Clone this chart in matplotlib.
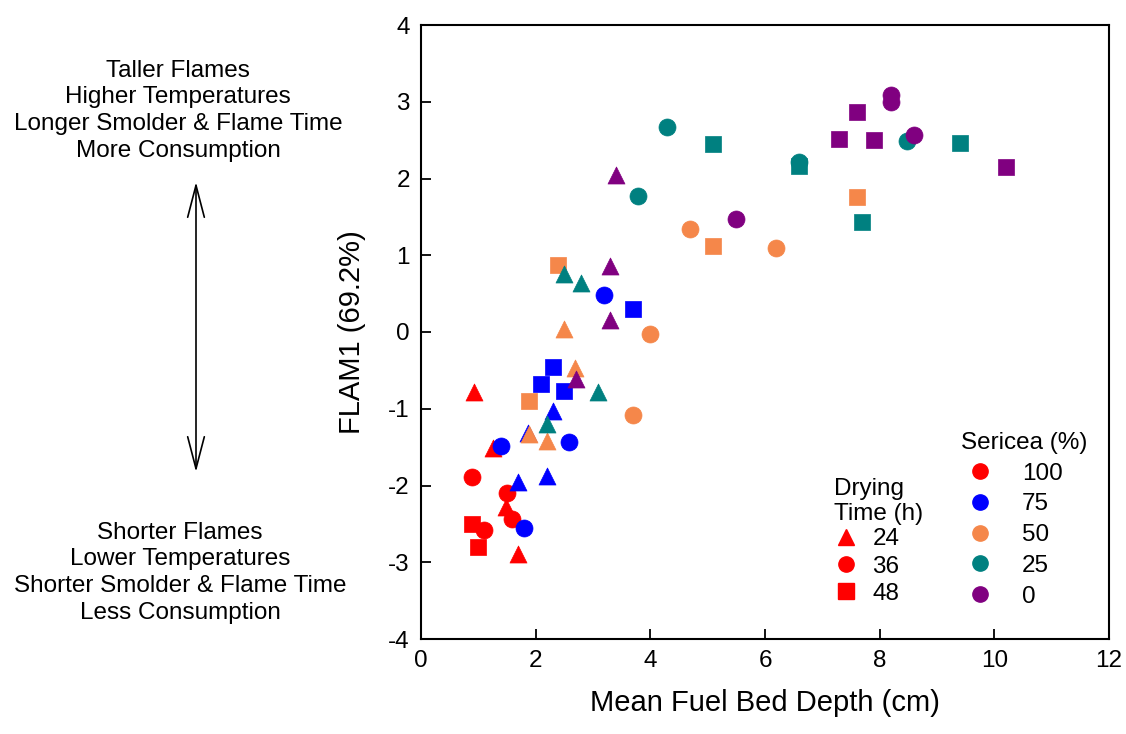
import matplotlib
matplotlib.use('Agg')
from matplotlib import pyplot as plt
from matplotlib.lines import Line2D
import numpy as np

plt.rcParams['font.family'] = ['Liberation Sans', 'DejaVu Sans']
plt.rcParams['axes.unicode_minus'] = False

# depth (cm), FLAM1 score, sericea %, drying time (h)
depth = [0.92, 1.26, 1.48, 1.69, 0.89, 1.50, 1.59, 1.10, 0.89, 0.99,
         1.69, 2.20, 2.30, 1.87, 1.40, 2.58, 1.80, 3.19, 3.70, 2.30, 2.09, 2.49,
         2.49, 2.69, 1.89, 2.20, 4.00, 3.69, 4.69, 6.19, 2.39, 1.89, 5.10, 7.60,
         2.49, 2.79, 3.09, 2.20, 4.29, 3.79, 6.59, 8.48, 5.09, 6.59, 7.70, 9.40,
         3.40, 3.30, 3.30, 2.70, 5.49, 8.20, 8.20, 8.60, 7.60, 7.29, 7.90, 10.20]
flam1 = [-0.78, -1.51, -2.28, -2.89, -1.89, -2.10, -2.44, -2.58, -2.50, -2.80,
         -1.96, -1.88, -1.03, -1.32, -1.49, -1.43, -2.55, 0.48, 0.30, -0.46, -0.68, -0.77,
         0.04, -0.47, -1.33, -1.42, -0.03, -1.08, 1.34, 1.09, 0.87, -0.90, 1.12, 1.76,
         0.76, 0.64, -0.78, -1.20, 2.67, 1.77, 2.21, 2.49, 2.45, 2.16, 1.43, 2.46,
         2.05, 0.86, 0.16, -0.61, 1.47, 3.09, 3.00, 2.57, 2.87, 2.51, 2.50, 2.15]
sericea = [100]*10 + [75]*12 + [50]*12 + [25]*12 + [0]*12
drying = ([24]*4 + [36]*4 + [48]*2 +
          ([24]*4 + [36]*4 + [48]*4) * 4)

sericea_levels = [100, 75, 50, 25, 0]
sericea_colors = ['#FF0000', '#0000FF', '#F5874A', '#008080', '#800080']
drying_levels = [24, 36, 48]
drying_markers = ['^', 'o', 's']
marker_sizes = {'^': 150, 'o': 150, 's': 120}

fig = plt.figure(figsize=(11.26, 7.34), dpi=100)
ax = fig.add_axes([421/1126, 1 - 639/734, 688/1126, 614/734])

depth = np.array(depth); flam1 = np.array(flam1)
sericea = np.array(sericea); drying = np.array(drying)

for s, c in zip(sericea_levels, sericea_colors):
    for d, m in zip(drying_levels, drying_markers):
        sel = (sericea == s) & (drying == d)
        if sel.any():
            ax.scatter(depth[sel], flam1[sel], marker=m, s=marker_sizes[m],
                       color=c, edgecolors=c, linewidths=0.5, zorder=3)

ax.set_xlim(0, 12)
ax.set_ylim(-4, 4)
ax.set_xticks(range(0, 13, 2))
ax.set_yticks(range(-4, 5))
ax.tick_params(direction='in', length=7, width=1.3, labelsize=17.5, pad=8,
               top=False, right=False)
for sp in ax.spines.values():
    sp.set_linewidth(1.5)
ax.set_xlabel('Mean Fuel Bed Depth (cm)', fontsize=21, labelpad=12)
ax.set_ylabel('FLAM1 (69.2%)', fontsize=21, labelpad=16)

# legends
h_dry = [Line2D([], [], marker=m, color='#FF0000', ls='none', markersize=11)
         for m in drying_markers]
leg1 = ax.legend(h_dry, [str(d) for d in drying_levels], title='Drying\nTime (h)',
                 loc='upper left', bbox_to_anchor=(0.575, 0.29), frameon=False,
                 fontsize=17.5, title_fontsize=17.5, alignment='left',
                 handletextpad=0.6, labelspacing=0.22, handlelength=1.0,
                 borderpad=0.2)
leg1._legend_box.sep = 2
ax.add_artist(leg1)
h_ser = [Line2D([], [], marker='o', color=c, ls='none', markersize=11)
         for c in sericea_colors]
ax.legend(h_ser, [str(s) for s in sericea_levels], title='Sericea (%)',
          loc='upper left', bbox_to_anchor=(0.76, 0.365), frameon=False,
          fontsize=17.5, title_fontsize=17.5, alignment='left',
          handletextpad=0.9, labelspacing=0.36, handlelength=1.6,
          borderpad=0.2)

# side annotation
top_lines = ['Taller Flames', 'Higher Temperatures',
             'Longer Smolder & Flame Time', 'More Consumption']
bot_lines = ['Shorter Flames', 'Lower Temperatures',
             'Shorter Smolder & Flame Time', 'Less Consumption']
for i, t in enumerate(top_lines):
    fig.text(178/1126, 1 - (71 + 26.5*i)/734, t, ha='center', va='center', fontsize=17.5)
for i, t in enumerate(bot_lines):
    fig.text(180/1126, 1 - (533 + 26.5*i)/734, t, ha='center', va='center', fontsize=17.5)

ax.annotate('', xy=(196, 734-182), xytext=(196, 734-472),
            xycoords='figure pixels', textcoords='figure pixels',
            arrowprops=dict(arrowstyle='<->,head_length=2.3,head_width=0.6',
                            lw=1.2, color='black', shrinkA=0, shrinkB=0))

fig.savefig('out.png', dpi=100)
